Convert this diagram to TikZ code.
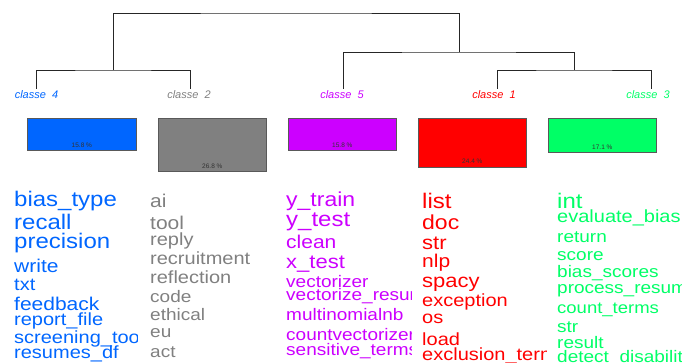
\documentclass[tikz,border=0pt]{standalone}
\usepackage{fontspec}
\usepackage{graphicx}
\setmainfont{Liberation Sans}
\definecolor{cfour}{RGB}{0,102,255}
\definecolor{ctwo}{RGB}{128,128,128}
\definecolor{cfive}{RGB}{204,0,255}
\definecolor{cone}{RGB}{255,0,0}
\definecolor{cthree}{RGB}{0,255,102}
\newcommand{\sq}[1]{\scalebox{1}[0.88]{#1}}
\tikzset{
  dend/.style={draw=black!85, line width=0.8pt},
  clabel/.style={font=\fontsize{11}{11}\selectfont\itshape, anchor=base, inner sep=0},
  box/.style={draw=black!65, line width=0.7pt, anchor=north west, inner sep=0, minimum width=108pt},
  pct/.style={font=\fontsize{6.5}{6.5}\selectfont, text=black!80, inner sep=0},
  word/.style={anchor=base west, inner sep=0}
}
\begin{document}
\begin{tikzpicture}[x=1pt,y=-1pt]
\useasboundingbox (0,0) rectangle (682,363);
% dendrogram
\coordinate (l4) at (36,89);
\coordinate (l2) at (190,89);
\coordinate (l5) at (343,89);
\coordinate (l1) at (497,89);
\coordinate (l3) at (651,89);
\coordinate (n42) at (113,70);
\coordinate (n13) at (574,70);
\coordinate (n513) at (459,52);
\coordinate (root) at (286,13);
\draw[dend] (l4) |- (n42) -| (l2);
\draw[dend] (l1) |- (n13) -| (l3);
\draw[dend] (l5) |- (n513) -| (n13);
\draw[dend] (n42) |- (root) -| (n513);
% class labels
\node[clabel, text=cfour] (t4) at (36.5,99) {classe~ 4};
\node[clabel, text=ctwo] (t2) at (189,99) {classe~ 2};
\node[clabel, text=cfive] (t5) at (342,99) {classe~ 5};
\node[clabel, text=cone] (t1) at (494,99) {classe~ 1};
\node[clabel, text=cthree] (t3) at (648,99) {classe~ 3};
% boxes
\node[box, fill=cfour, minimum width=109pt, minimum height=32pt] (b4) at (27,118) {};
\node[box, fill=ctwo, minimum height=53pt] (b2) at (158,118) {};
\node[box, fill=cfive, minimum height=32pt] (b5) at (288,118) {};
\node[box, fill=cone, minimum height=49pt] (b1) at (418,118) {};
\node[box, fill=cthree, minimum height=34pt] (b3) at (548,118) {};
\node[pct] (p4) at ([yshift=5pt]b4.south) {15.8 \%};
\node[pct] (p2) at ([yshift=5pt]b2.south) {26.8 \%};
\node[pct] (p5) at ([yshift=5pt]b5.south) {15.8 \%};
\node[pct] (p1) at ([yshift=6pt]b1.south) {24.4 \%};
\node[pct] (p3) at ([yshift=5pt]b3.south) {17.1 \%};
% word columns
\begin{scope}
\clip (0,180) rectangle (137.5,363);
\foreach [count=\i] \w/\s/\y in {bias\_type/24/207, recall/24/230, precision/24/248, write/21/272, txt/20/290, feedback/21/310, report\_file/20/325, screening\_tool/20/343, resumes\_df/20/358}
  \node[word, text=cfour, font=\fontsize{\s}{\s}\selectfont] (wa\i) at (14,\y) {\sq{\w}};
\end{scope}
\begin{scope}
\clip (145,180) rectangle (280,363);
\foreach [count=\i] \w/\s/\y in {ai/21/208, tool/21/230, reply/20/245, recruitment/20/265, reflection/20/283, code/19/302, ethical/19/320, eu/19/337, act/19/357}
  \node[word, text=ctwo, font=\fontsize{\s}{\s}\selectfont] (wb\i) at (150,\y) {\sq{\w}};
\end{scope}
\begin{scope}
\clip (280,180) rectangle (411,363);
\foreach [count=\i] \w/\s/\y in {y\_train/23/207, y\_test/24/227, clean/21/248, x\_test/22/268, vectorizer/19/287, vectorize\_resume/19/300, multinomialnb/19/320, countvectorizer/19/340, sensitive\_terms/19/355}
  \node[word, text=cfive, font=\fontsize{\s}{\s}\selectfont] (wc\i) at (286,\y) {\sq{\w}};
\end{scope}
\begin{scope}
\clip (415,180) rectangle (546,363);
\foreach [count=\i] \w/\s/\y in {list/24/209, doc/23/230, str/22/250, nlp/21/267, spacy/22/287, exception/20/306, os/20/323, load/20/345, exclusion\_terms/20/360}
  \node[word, text=cone, font=\fontsize{\s}{\s}\selectfont] (wd\i) at (422,\y) {\sq{\w}};
\end{scope}
\begin{scope}
\clip (550,180) rectangle (682,363);
\foreach [count=\i] \w/\s/\y in {int/24/209, evaluate\_bias/20/223, return/19/243, score/19/260, bias\_scores/19/277, process\_resume/19/293, count\_terms/18.5/313, str/19/332, result/19/348, detect\_disability/19/362}
  \node[word, text=cthree, font=\fontsize{\s}{\s}\selectfont] (we\i) at (557,\y) {\sq{\w}};
\end{scope}
\end{tikzpicture}
\end{document}
